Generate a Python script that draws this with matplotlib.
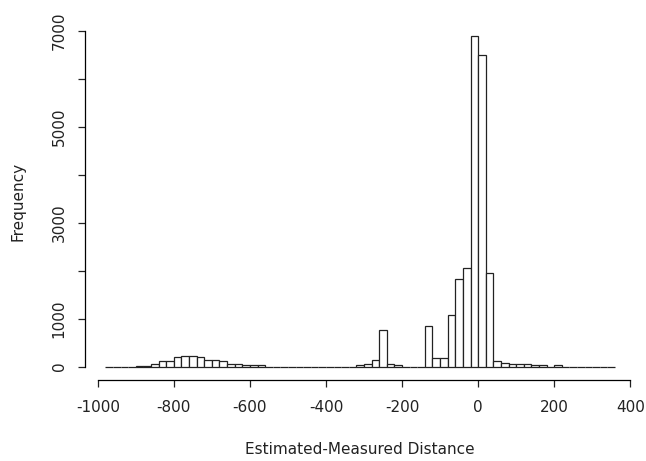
import numpy as np
import matplotlib
matplotlib.use("Agg")
import matplotlib.pyplot as plt

plt.rcParams["axes.unicode_minus"] = False

# histogram counts, bins of width 20 starting at -980
bin_start = -980
bin_width = 20
counts = [0, 0, 0, 0,
          20, 20, 55, 120, 120, 195, 220, 220, 195, 130, 130, 110, 60, 60, 25, 25, 25,
          0, 0, 0, 0, 0, 0, 0, 0, 0, 0, 0, 0,
          25, 55, 140, 770, 55, 25,
          0, 0, 0,
          850, 190, 170, 1080, 1830, 2060, 6880, 6500, 1950, 110, 80, 50, 50, 50, 25, 25, 0, 25,
          0, 0, 0, 0, 0, 0, 0]
x_ticks = [-1000, -800, -600, -400, -200, 0, 200, 400]
y_ticks = [0, 1000, 2000, 3000, 4000, 5000, 6000, 7000]
# R skips labels that would overlap
y_labels = ["0", "1000", "", "3000", "", "5000", "", "7000"]

edges = bin_start + bin_width * np.arange(len(counts) + 1)

fig = plt.figure(figsize=(6.46, 4.61), dpi=100)
ax = fig.add_axes([0.1316, 0.176, 0.852, 0.774])

ax.bar(edges[:-1], counts, width=bin_width, align="edge",
       facecolor="white", edgecolor="#222222", linewidth=0.9)

lo, hi = edges[0], edges[-1]
pad = 0.04 * (hi - lo)
ax.set_xlim(lo - pad, hi + pad)
ymax = max(counts)
ax.set_ylim(-0.04 * ymax, 1.04 * ymax)

for s in ["top", "right"]:
    ax.spines[s].set_visible(False)
ax.spines["bottom"].set_bounds(x_ticks[0], x_ticks[-1])
ax.spines["left"].set_bounds(y_ticks[0], y_ticks[-1])
for s in ["bottom", "left"]:
    ax.spines[s].set_linewidth(0.9)

ax.set_xticks(x_ticks)
ax.set_yticks(y_ticks)
ax.set_yticklabels(y_labels, rotation=90, va="center")
ax.tick_params(direction="out", length=5.2, width=0.9, labelsize=11,
               colors="#222222", labelcolor="#222222")
ax.tick_params(axis="x", pad=9.5)
ax.tick_params(axis="y", pad=8)

ax.set_xlabel("Estimated-Measured Distance", fontsize=11, labelpad=19,
              color="#222222")
ax.set_ylabel("Frequency", fontsize=11, labelpad=19, color="#222222")

fig.savefig("out.png", dpi=100)
